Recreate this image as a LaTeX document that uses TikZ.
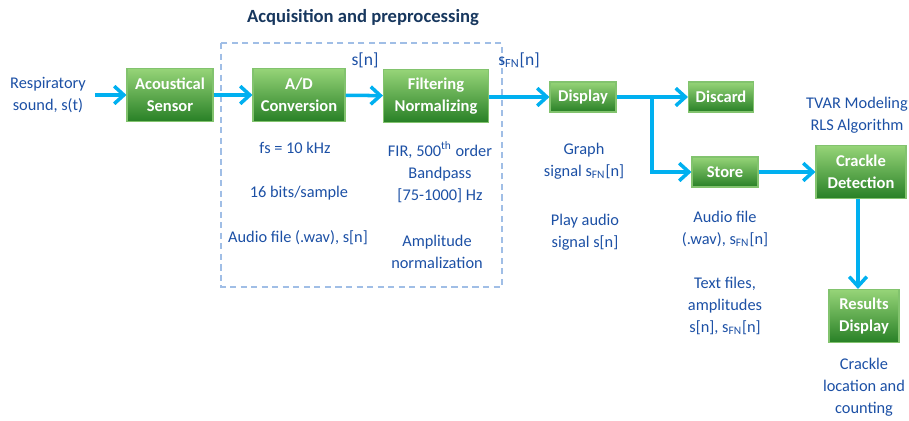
\documentclass[tikz,border=0pt]{standalone}
\usepackage{fontspec}
\setmainfont{Carlito}
\usetikzlibrary{arrows.meta}
\definecolor{txtblue}{RGB}{28,80,165}
\definecolor{navy}{RGB}{23,55,94}
\definecolor{flowcyan}{RGB}{0,176,240}
\definecolor{boxtop}{RGB}{150,212,120}
\definecolor{boxbot}{RGB}{40,128,38}
\definecolor{boxline}{RGB}{130,195,110}
\definecolor{dashblue}{RGB}{160,190,230}
\begin{document}
\begin{tikzpicture}[x=0.02cm,y=-0.02cm,
  block/.style={draw=boxline, line width=0.6pt, top color=boxtop, bottom color=boxbot,
    text=white, font=\fontsize{9.4}{12.5}\selectfont\bfseries, align=center,
    inner sep=0pt, minimum height=1.06cm},
  small/.style={block, minimum height=0.6cm},
  note/.style={text=txtblue, font=\fontsize{9.3}{12.5}\selectfont, align=center, inner sep=0pt},
  flow/.style={draw=flowcyan, line width=2pt, -{Straight Barb[length=5.5pt,width=10pt]}}]
  \useasboundingbox (0,0) rectangle (909,421);
  % acquisition frame
  \draw[dashblue, line width=0.8pt, dash pattern=on 3.5pt off 2.5pt] (221,43) rectangle (502,287);
  \node[font=\fontsize{10.6}{12}\selectfont\bfseries, text=navy] (title) at (363,18) {Acquisition and preprocessing};
  % blocks
  \node[note] (resp) at (48,95) {Respiratory\\sound, s(t)};
  \node[block, minimum width=1.72cm] (sensor) at (170,95) {Acoustical\\Sensor};
  \node[block, minimum width=1.84cm] (adc) at (299,95) {A/D\\Conversion};
  \node[block, minimum width=2.1cm] (filter) at (436,96) {Filtering\\Normalizing};
  \node[small, minimum width=1.32cm] (display) at (583,97) {Display};
  \node[small, minimum width=1.3cm] (discard) at (721,97) {Discard};
  \node[small, minimum width=1.32cm] (store) at (725,172) {Store};
  \node[block, minimum width=1.8cm] (crackle) at (861,172) {Crackle\\Detection};
  \node[block, minimum width=1.4cm] (results) at (864,316) {Results\\Display};
  % signal labels
  \node[note, font=\fontsize{10}{12}\selectfont] (sn) at (365,60) {s[n]};
  \node[note, font=\fontsize{10}{12}\selectfont] (sfn) at (519,60) {s\textsubscript{FN}[n]};
  % notes
  \node[note] (fs) at (295,148) {fs = 10 kHz};
  \node[note] (bits) at (299,193) {16 bits/sample};
  \node[note] (wav) at (298,238) {Audio file (.wav), s[n]};
  \node[note] (fir) at (440,172) {FIR, 500\textsuperscript{th} order\\Bandpass\\{[}75-1000{]} Hz};
  \node[note] (ampl) at (437,252) {Amplitude\\normalization};
  \node[note] (graph) at (584,161) {Graph\\signal s\textsubscript{FN}[n]};
  \node[note] (play) at (585,232) {Play audio\\signal s[n]};
  \node[note] (audio) at (725,229) {Audio file\\(.wav), s\textsubscript{FN}[n]};
  \node[note] (files) at (725,306) {Text files,\\amplitudes\\s[n], s\textsubscript{FN}[n]};
  \node[note] (tvar) at (857,115) {TVAR Modeling\\RLS Algorithm};
  \node[note] (loc) at (864,387) {Crackle\\location and\\counting};
  % connectors
  \coordinate (split) at (652,97);
  \draw[flow, shorten <=5pt] (resp) -- (sensor);
  \draw[flow] (sensor) -- (adc);
  \draw[flow] (adc) -- (filter);
  \draw[flow] (filter.east |- display) -- (display);
  \draw[flow] (display) -- (discard);
  \draw[flow] (split) |- (store);
  \draw[flow] (store) -- (crackle);
  \draw[flow] (crackle.south -| 858,0) -- (results.north -| 858,0);
\end{tikzpicture}
\end{document}
